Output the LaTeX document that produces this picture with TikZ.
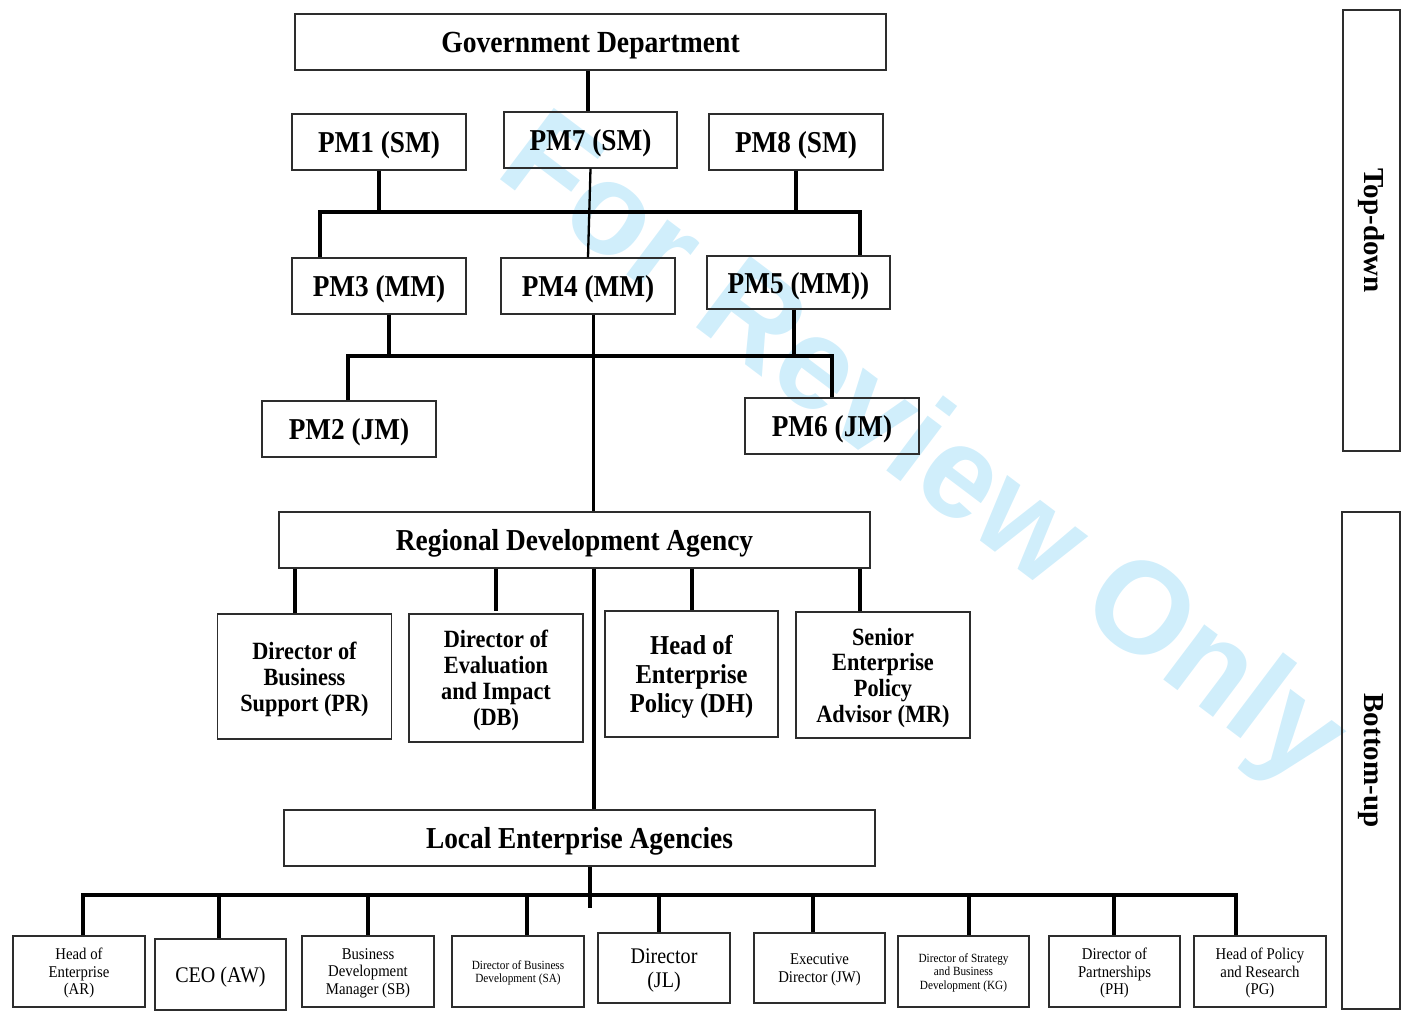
\documentclass[tikz,border=0pt]{standalone}
\usepackage{fontspec}
\setmainfont{Liberation Serif}
\newfontfamily\cser[FakeStretch=0.9]{Liberation Serif}
\newfontfamily\wmsans{Liberation Sans}
\definecolor{wmblue}{RGB}{208,238,251}
\definecolor{boxline}{RGB}{45,45,45}
\begin{document}
\begin{tikzpicture}[x=1pt,y=-1pt,
  box/.style={draw=boxline, line width=1.3pt, inner sep=0pt, align=center},
  tbox/.style={box, text depth=0pt},
  conn/.style={line width=3.4pt, black},
  bar/.style={line width=4pt, black, line join=miter},
  bconn/.style={line width=4pt, black},
  thinconn/.style={line width=2.3pt, black},
  midconn/.style={line width=3pt, black},
  ttl/.style={font=\cser\bfseries\fontsize{30.4}{32}\selectfont},
  pm/.style={tbox, minimum width=174, minimum height=56, font=\cser\bfseries\fontsize{30.3}{32}\selectfont},
  sec/.style={tbox, minimum width=174, font=\cser\bfseries\fontsize{24.8}{26}\selectfont},
  bot/.style={tbox, minimum width=132, minimum height=71, font=\cser\fontsize{16.4}{17.5}\selectfont},
  side/.style={box, rotate=-90, font=\bfseries\fontsize{29}{30}\selectfont}
]
\useasboundingbox (0,0) rectangle (1406,1013);

% watermark (behind everything)
\node[rotate=-37, text=wmblue, font=\wmsans\bfseries\fontsize{130}{130}\selectfont] (wm) at (920,454) {For Review Only};

% top level
\node[tbox, minimum width=591, minimum height=56, font=\cser\bfseries\fontsize{30.7}{32}\selectfont] (gov) at (590.5,42) {Government Department};
\node[pm] (pm1) at (379,142) {PM1 (SM)};
\node[pm, minimum width=173] (pm7) at (590.5,140) {PM7 (SM)};
\node[pm] (pm8) at (796,142) {PM8 (SM)};
\node[pm] (pm3) at (379,286) {PM3 (MM)};
\node[pm] (pm4) at (588,286) {PM4 (MM)};
\node[pm, minimum width=183, minimum height=53] (pm5) at (798.5,282.5) {PM5 (MM))};
\node[pm] (pm2) at (349,429) {PM2 (JM)};
\node[pm] (pm6) at (832,426) {PM6 (JM)};

% regional level
\node[tbox, minimum width=591, minimum height=56, ttl] (rda) at (574.5,540) {Regional Development Agency};
\node[sec, minimum height=125] (pr) at (304.5,676.5) {Director of\\Business\\Support (PR)};
\node[sec, minimum height=128] (db) at (496,678) {Director of\\Evaluation\\and Impact\\(DB)};
\node[sec, minimum width=173, minimum height=126, font=\cser\bfseries\fontsize{27.3}{29}\selectfont] (dh) at (691.5,674) {Head of\\Enterprise\\Policy (DH)};
\node[sec, minimum height=126, font=\cser\bfseries\fontsize{24.8}{25.7}\selectfont] (mr) at (883,675) {Senior\\Enterprise\\Policy\\Advisor (MR)};

% local level
\node[tbox, minimum width=591, minimum height=56, ttl] (lea) at (579.5,838) {Local Enterprise Agencies};
\node[bot] (ar) at (79,971.5) {Head of\\Enterprise\\(AR)};
\node[bot, minimum width=131, font=\cser\fontsize{22.3}{24}\selectfont] (ceo) at (220.5,974.5) {CEO (AW)};
\node[bot] (sb) at (368,971.5) {Business\\Development\\Manager (SB)};
\node[bot, font=\cser\fontsize{12.5}{13.5}\selectfont] (sa) at (518,971.5) {Director of Business\\Development (SA)};
\node[bot, minimum height=70, font=\cser\fontsize{22.3}{24}\selectfont] (jl) at (664,968) {Director\\(JL)};
\node[bot, minimum width=131, minimum height=70] (jw) at (819.5,968) {Executive\\Director (JW)};
\node[bot, minimum width=131, font=\cser\fontsize{12.5}{13.5}\selectfont] (kg) at (963.5,971.5) {Director of Strategy\\and Business\\Development (KG)};
\node[bot, minimum width=131] (ph) at (1114.5,971.5) {Director of\\Partnerships\\(PH)};
\node[bot] (pg) at (1260,971.5) {Head of Policy\\and Research\\(PG)};

% side labels
\node[side, minimum width=441, minimum height=57] (td) at (1371.5,230.5) {Top-down};
\node[side, minimum width=497, minimum height=58] (bu) at (1371,760.5) {Bottom-up};

% junction coordinates
\coordinate (j0) at (588,0);
\coordinate (b1L) at (320,212);
\coordinate (b1R) at (860,212);
\coordinate (j3) at (389,356);
\coordinate (j5) at (794,356);
\coordinate (b2L) at (348,356);
\coordinate (b2R) at (832,356);
\coordinate (j4) at (593,0);
\coordinate (j6) at (594,0);
\coordinate (k1) at (295,0);
\coordinate (k2) at (496,0);
\coordinate (k3) at (692,0);
\coordinate (k4) at (860,0);
\coordinate (j7) at (590,908);
\coordinate (b3L) at (83,895);
\coordinate (b3R) at (1236,895);

% connectors: government
\draw[conn] (gov.south -| j0) -- (pm7.north -| j0);
\draw[conn] (pm1.south) -- (pm1.south |- b1L);
\draw[conn] (pm8.south) -- (pm8.south |- b1L);
\draw[bar] (pm3.north -| b1L) -- (b1L) -- (b1R) -- (b1R |- pm5.north);
\draw[thinconn] (pm7.south) -- (pm4.north);
\draw[conn] (pm3.south -| j3) -- (j3);
\draw[conn] (pm5.south -| j5) -- (j5);
\draw[bar] (pm2.north -| b2L) -- (b2L) -- (b2R) -- (b2R |- pm6.north);
\draw[midconn] (pm4.south -| j4) -- (rda.north -| j4);

% connectors: regional
\draw[conn] (rda.south -| k1) -- (pr.north -| k1);
\draw[conn] (rda.south -| k2) -- ++(0,42);
\draw[conn] (rda.south -| k3) -- (dh.north -| k3);
\draw[conn] (rda.south -| k4) -- (mr.north -| k4);
\draw[line width=3.2pt] (rda.south -| j6) -- (lea.north -| j6);

% connectors: local
\draw[conn] (lea.south -| j7) -- (j7);
\draw[bar] (ar.north -| b3L) -- (b3L) -- (b3R) -- (b3R |- pg.north);
\foreach \n/\x in {ceo/219, sb/368, sa/527, jl/659, jw/813, kg/969, ph/1114} {
  \coordinate (t) at (\x,895);
  \draw[bconn] (t) -- (t |- \n.north);
}
\end{tikzpicture}
\end{document}
